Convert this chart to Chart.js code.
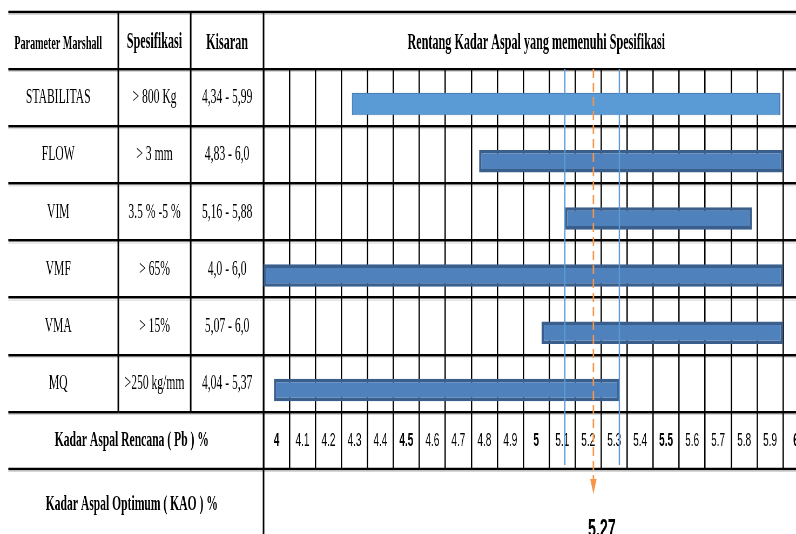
<!DOCTYPE html>
<html>
<head>
<meta charset="utf-8">
<title>Rentang Kadar Aspal yang memenuhi Spesifikasi</title>
<script src="https://cdn.jsdelivr.net/npm/chart.js@4/dist/chart.umd.min.js"></script>
<style>
  html, body { margin: 0; padding: 0; background: #fff; overflow: hidden; }
  /* the canvas is drawn wide and squeezed horizontally for narrow lettering */
  #frame { width: 1474px; height: 534px; transform-origin: 0 0; transform: scaleX(0.540027); }
  canvas { display: block; }
</style>
</head>
<body>
<div id="frame"><canvas id="chart" width="1474" height="534"></canvas></div>
<script>
// ---- data ----------------------------------------------------------------
const PARAMETERS     = ['STABILITAS', 'FLOW', 'VIM', 'VMF', 'VMA', 'MQ'];
const SPECIFICATIONS = ['> 800 Kg', '> 3 mm', '3.5 % -5 %', '> 65%', '> 15%', '>250 kg/mm'];
const RANGE_LABELS   = ['4,34 - 5,99', '4,83 - 6,0', '5,16 - 5,88', '4,0 - 6,0', '5,07 - 6,0', '4,04 - 5,37'];
const RANGE_START    = [4.34, 4.83, 5.16, 4.0, 5.07, 4.04];
const RANGE_END      = [5.99, 6.0, 5.88, 6.0, 6.0, 5.37];

const PB_TICKS = ['4', '4.1', '4.2', '4.3', '4.4', '4.5', '4.6', '4.7', '4.8', '4.9',
                  '5', '5.1', '5.2', '5.3', '5.4', '5.5', '5.6', '5.7', '5.8', '5.9', '6'];
const PB_MIN = 4.0;
const PB_MAX = 6.05;
const PB_CELL = 0.1;

const KAO_RANGE = [5.16, 5.37];
const KAO = 5.27;

const HEAD_PARAM = 'Parameter Marshall';
const HEAD_SPEC  = 'Spesifikasi';
const HEAD_RANGE = 'Kisaran';
const TITLE      = 'Rentang Kadar Aspal yang memenuhi Spesifikasi';
const ROW_PB     = 'Kadar Aspal Rencana ( Pb ) %';
const ROW_KAO    = 'Kadar Aspal Optimum ( KAO ) %';

// ---- layout & style --------------------------------------------------------
const CANVAS_W = 1474, CANVAS_H = 534;
const SX = 796 / CANVAS_W;             // horizontal squeeze applied by CSS
const TABLE_LEFT = 15.4;
const COL_PARAM = 203.7, COL_SPEC = 134, COL_RANGE = 134.9;
const PARAM_CENTRE_FROM_RIGHT = 111.3;
const TOP_GAP = 12, HEADER_H = 57, PB_ROW_H = 57, KAO_ROW_H = 65;

const SERIF = "'Liberation Serif', 'Times New Roman', serif";
const SANS  = "'Liberation Sans', Arial, sans-serif";
const ROW_FONT    = { family: SERIF, size: 21.5 };
const HEAD_FONT   = { family: SERIF, size: 22.5, weight: 'bold' };
const PARAM_FONT  = { family: SERIF, size: 18.7, weight: 'bold' };
const FOOT_FONT   = { family: SERIF, size: 21.5, weight: 'bold' };
const KAO_FONT    = { family: SANS,  size: 26.5, weight: 'bold' };
const H_RULE = 2.6, V_RULE = 3, GRID_V = 2.5;
const SHADOW_RULE = 'rgba(0,0,0,0.16)';

const BAR_FILL = ['#5B9BD5', '#4F81BD', '#4F81BD', '#4F81BD', '#4F81BD', '#4F81BD'];
const BAR_EDGE = ['#4A7FB8', '#3A5F8C', '#3A5F8C', '#3A5F8C', '#3A5F8C', '#3A5F8C'];
const THIN = { top: 1.2, bottom: 1.2, left: 2.2, right: 2.2 };
const THICK = { top: 3.6, bottom: 3.6, left: 4.5, right: 4.5 };
const BAR_EDGE_W = [THIN, THICK, THICK, THICK, THICK, THICK];

const plotWidth = CANVAS_W - TABLE_LEFT - COL_PARAM - COL_SPEC - COL_RANGE;
const halfCell = plotWidth / (PB_MAX - PB_MIN) * PB_CELL / 2;

function fontString(f) {
  return `${f.weight || 'normal'} ${f.size}px ${f.family}`;
}

// padding that puts crossAlign:'center' labels at a chosen distance from the axis' right edge
function labelPadding(labels, font, tickLen, centreFromRight) {
  const c = document.createElement('canvas').getContext('2d');
  c.font = fontString(font);
  const widest = Math.max(...labels.map(t => c.measureText(t).width));
  return centreFromRight - tickLen - widest / 2;
}

function tableAxis(labels, width, weight, onArea, centreFromRight) {
  return {
    type: 'category',
    position: 'left',
    labels: labels,
    weight: weight,
    offset: true,
    grid: { offset: true, color: '#000', lineWidth: H_RULE, drawTicks: true,
            tickLength: width, drawOnChartArea: onArea },
    border: { display: false },
    ticks: { font: ROW_FONT, color: '#000', crossAlign: 'center', autoSkip: false,
             padding: labelPadding(labels, ROW_FONT, width, centreFromRight) },
    afterFit: s => { s.width = width; }
  };
}

function hline(ctx, x1, x2, y) { ctx.beginPath(); ctx.moveTo(x1, y); ctx.lineTo(x2, y); ctx.stroke(); }
function vline(ctx, x, y1, y2) { ctx.beginPath(); ctx.moveTo(x, y1); ctx.lineTo(x, y2); ctx.stroke(); }
function text(ctx, str, x, y, font, align, baseline) {
  ctx.font = fontString(font);
  ctx.textAlign = align || 'center';
  ctx.textBaseline = baseline || 'alphabetic';
  ctx.fillStyle = '#000';
  ctx.fillText(str, x, y);
}

// table frame, headings, footer rows and the KAO marker
const marshallTable = {
  id: 'marshallTable',
  beforeDatasetsDraw(chart) {
    const { ctx, chartArea } = chart;
    const { x, y, ySpec, yParam } = chart.scales;
    const top = chartArea.top - HEADER_H;
    ctx.save();

    // faint cell gridlines just beside the black row rules
    ctx.strokeStyle = SHADOW_RULE;
    ctx.lineWidth = 1;
    const rows = [top, x.bottom];
    for (let i = 0; i <= PARAMETERS.length; i++) rows.push(y.getPixelForValue(i - 0.5));
    rows.forEach(r => hline(ctx, yParam.left, chart.width, r + 2.5));

    ctx.strokeStyle = '#000';
    ctx.lineWidth = H_RULE;
    hline(ctx, yParam.left, chart.width, top);
    hline(ctx, yParam.left, chart.width, x.bottom);
    ctx.lineWidth = V_RULE;
    vline(ctx, yParam.right, top, chartArea.bottom);
    vline(ctx, ySpec.right, top, chartArea.bottom);
    vline(ctx, chartArea.left, top, chart.height);

    const base = top + 36.5;
    text(ctx, HEAD_PARAM, yParam.right - PARAM_CENTRE_FROM_RIGHT, base + 0.5, PARAM_FONT);
    text(ctx, HEAD_SPEC, (ySpec.left + ySpec.right) / 2, base - 0.5, HEAD_FONT);
    text(ctx, HEAD_RANGE, (y.left + y.right) / 2, base, HEAD_FONT);
    const lastCellEnd = parseFloat(PB_TICKS[PB_TICKS.length - 1]) + PB_CELL;
    text(ctx, TITLE, (chartArea.left + x.getPixelForValue(lastCellEnd)) / 2, base, HEAD_FONT);

    text(ctx, ROW_PB, chartArea.left / 2, (x.top + x.bottom) / 2, FOOT_FONT, 'center', 'middle');
    text(ctx, ROW_KAO, chartArea.left / 2, x.bottom + 35, FOOT_FONT, 'center', 'middle');
    ctx.restore();
  },
  afterDatasetsDraw(chart) {
    const { ctx, chartArea } = chart;
    const x = chart.scales.x;
    ctx.save();
    ctx.strokeStyle = '#5B9BD5';
    ctx.lineWidth = 1.3 / SX;
    KAO_RANGE.forEach(v => vline(ctx, x.getPixelForValue(v), chartArea.top, x.bottom - 4));

    const kx = x.getPixelForValue(KAO);
    const arrowBase = x.bottom + 10, arrowTip = x.bottom + 25;
    ctx.strokeStyle = '#F79646';
    ctx.lineWidth = 1.5 / SX;
    ctx.setLineDash([9, 5]);
    vline(ctx, kx, chartArea.top, arrowBase);
    ctx.setLineDash([]);
    ctx.fillStyle = '#F79646';
    ctx.beginPath();
    ctx.moveTo(kx - 3.2 / SX, arrowBase);
    ctx.lineTo(kx + 3.2 / SX, arrowBase);
    ctx.lineTo(kx, arrowTip);
    ctx.closePath();
    ctx.fill();
    text(ctx, KAO.toFixed(2), kx - 5.5 / SX, x.bottom + 67.5, KAO_FONT, 'left');
    ctx.restore();
  }
};

new Chart(document.getElementById('chart'), {
  type: 'bar',
  data: {
    labels: RANGE_LABELS,
    datasets: [
      // empty slot above each bar so the bar sits in the lower half of its row
      { label: '', data: PARAMETERS.map(() => null) },
      {
        label: 'Rentang Kadar Aspal',
        data: RANGE_START.map((s, i) => [s, RANGE_END[i]]),
        backgroundColor: BAR_FILL,
        borderColor: BAR_EDGE,
        borderWidth: BAR_EDGE_W,
        borderSkipped: false
      }
    ]
  },
  options: {
    indexAxis: 'y',
    responsive: false,
    animation: false,
    devicePixelRatio: 1,
    categoryPercentage: 0.4548,
    barPercentage: 1.73,
    layout: { padding: { left: TABLE_LEFT, right: 0, top: TOP_GAP + HEADER_H, bottom: KAO_ROW_H } },
    plugins: { legend: { display: false }, tooltip: { enabled: false }, title: { display: false } },
    scales: {
      x: {
        type: 'linear',
        position: 'bottom',
        min: PB_MIN,
        max: PB_MAX,
        afterBuildTicks: s => { s.ticks = PB_TICKS.map(t => ({ value: parseFloat(t) })); },
        grid: { color: '#000', lineWidth: GRID_V, drawTicks: true, tickLength: PB_ROW_H },
        border: { display: false },
        ticks: {
          autoSkip: false, maxRotation: 0, minRotation: 0,
          color: '#000',
          padding: -39,
          labelOffset: halfCell,
          callback: (v, i) => PB_TICKS[i],
          font: c => {
            const v = c.tick ? c.tick.value : 0;
            const half = Math.abs(Math.round(v * 10) % 5) === 0;
            return { family: SANS, size: 18.6, weight: half ? 'bold' : 'normal' };
          }
        },
        afterFit: s => { s.height = PB_ROW_H; }
      },
      y: tableAxis(RANGE_LABELS, COL_RANGE, 0, true, COL_RANGE / 2),
      ySpec: tableAxis(SPECIFICATIONS, COL_SPEC, 1, false, COL_SPEC / 2),
      yParam: tableAxis(PARAMETERS, COL_PARAM, 2, false, PARAM_CENTRE_FROM_RIGHT)
    }
  },
  plugins: [marshallTable]
});
</script>
</body>
</html>
